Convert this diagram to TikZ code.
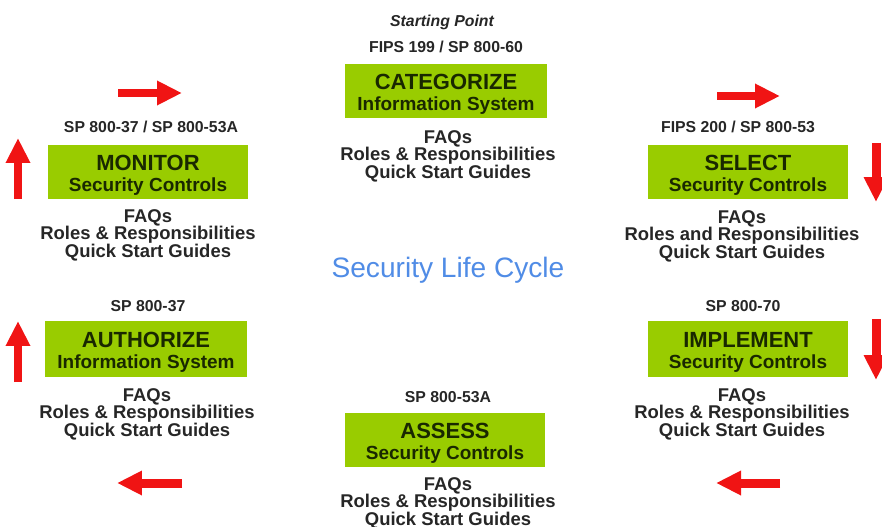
\documentclass[tikz,border=0pt]{standalone}
\usepackage{fontspec}
\setmainfont{Liberation Sans}
\usetikzlibrary{arrows.meta}

\definecolor{stepgreen}{RGB}{153,204,0}
\definecolor{steptext}{RGB}{25,40,0}
\definecolor{cycleblue}{RGB}{80,140,230}
\definecolor{flowred}{RGB}{240,20,20}

\tikzset{
  stepbox/.style={fill=stepgreen, minimum width=4cm, minimum height=1.1cm, inner sep=0pt,
    align=center, text=steptext, font=\bfseries\fontsize{10.8}{12}\selectfont},
  reflabel/.style={font=\bfseries\fontsize{9}{10}\selectfont, text=black!85},
  infolist/.style={align=center, font=\bfseries\fontsize{10.5}{9.9}\selectfont, text=black!85},
  flow/.style={draw=flowred, line width=0.18cm, -{Triangle[length=0.5cm,width=0.46cm]}},
}
\newcommand{\steptitle}[1]{{\fontsize{12.5}{12}\selectfont\rule{0pt}{12pt}#1}}

\begin{document}
\begin{tikzpicture}[x=0.02cm,y=-0.02cm]

  \useasboundingbox (0,0) rectangle (882,527);

  % Categorize
  \node[font=\bfseries\itshape\fontsize{9}{10}\selectfont, text=black!85] (start) at (442,22) {Starting Point};
  \node[reflabel] (catref) at (446,47) {FIPS 199 / SP 800-60};
  \node[stepbox, minimum width=4.06cm] (cat) at (446,91) {\steptitle{CATEGORIZE}\\Information System};
  \node[infolist] (catinfo) at (448,156) {FAQs\\Roles \& Responsibilities\\Quick Start Guides};

  % Select
  \node[reflabel] (selref) at (738,127) {FIPS 200 / SP 800-53};
  \node[stepbox] (sel) at (748,172) {\steptitle{SELECT}\\Security Controls};
  \node[infolist] (selinfo) at (742,236) {FAQs\\Roles and Responsibilities\\Quick Start Guides};

  % Implement
  \node[reflabel] (implref) at (743,306) {SP 800-70};
  \node[stepbox, minimum height=1.12cm] (impl) at (748,349) {\steptitle{IMPLEMENT}\\Security Controls};
  \node[infolist] (implinfo) at (742,414) {FAQs\\Roles \& Responsibilities\\Quick Start Guides};

  % Assess
  \node[reflabel] (assref) at (448,397) {SP 800-53A};
  \node[stepbox] (assess) at (445,440) {\steptitle{ASSESS}\\Security Controls};
  \node[infolist] (assinfo) at (448,503) {FAQs\\Roles \& Responsibilities\\Quick Start Guides};

  % Authorize
  \node[reflabel] (authref) at (148,306) {SP 800-37};
  \node[stepbox, minimum width=4.06cm, minimum height=1.12cm] (auth) at (146,349) {\steptitle{AUTHORIZE}\\Information System};
  \node[infolist] (authinfo) at (147,414) {FAQs\\Roles \& Responsibilities\\Quick Start Guides};

  % Monitor
  \node[reflabel] (monref) at (151,127) {SP 800-37 / SP 800-53A};
  \node[stepbox] (mon) at (148,172) {\steptitle{MONITOR}\\Security Controls};
  \node[infolist] (moninfo) at (148,235) {FAQs\\Roles \& Responsibilities\\Quick Start Guides};

  % Centre
  \node[font=\fontsize{16}{18}\selectfont, text=cycleblue] (cycle) at (448,270) {Security Life Cycle};

  % Arrows round the cycle
  \coordinate (toplefta) at (118,93);   \coordinate (topleftb) at (182,93);
  \coordinate (toprighta) at (717,96);  \coordinate (toprightb) at (780,96);
  \coordinate (rightupa) at (876,143);  \coordinate (rightupb) at (876,202);
  \coordinate (rightlowa) at (876,319); \coordinate (rightlowb) at (876,380);
  \coordinate (botrighta) at (780,483); \coordinate (botrightb) at (716,483);
  \coordinate (botlefta) at (182,483);  \coordinate (botleftb) at (117,483);
  \coordinate (leftlowa) at (18,382);   \coordinate (leftlowb) at (18,321);
  \coordinate (leftupa) at (18,199);    \coordinate (leftupb) at (18,138);

  \draw[flow] (toplefta) -- (topleftb);
  \draw[flow] (toprighta) -- (toprightb);
  \draw[flow] (rightupa) -- (rightupb);
  \draw[flow] (rightlowa) -- (rightlowb);
  \draw[flow] (botrighta) -- (botrightb);
  \draw[flow] (botlefta) -- (botleftb);
  \draw[flow] (leftlowa) -- (leftlowb);
  \draw[flow] (leftupa) -- (leftupb);

\end{tikzpicture}
\end{document}
